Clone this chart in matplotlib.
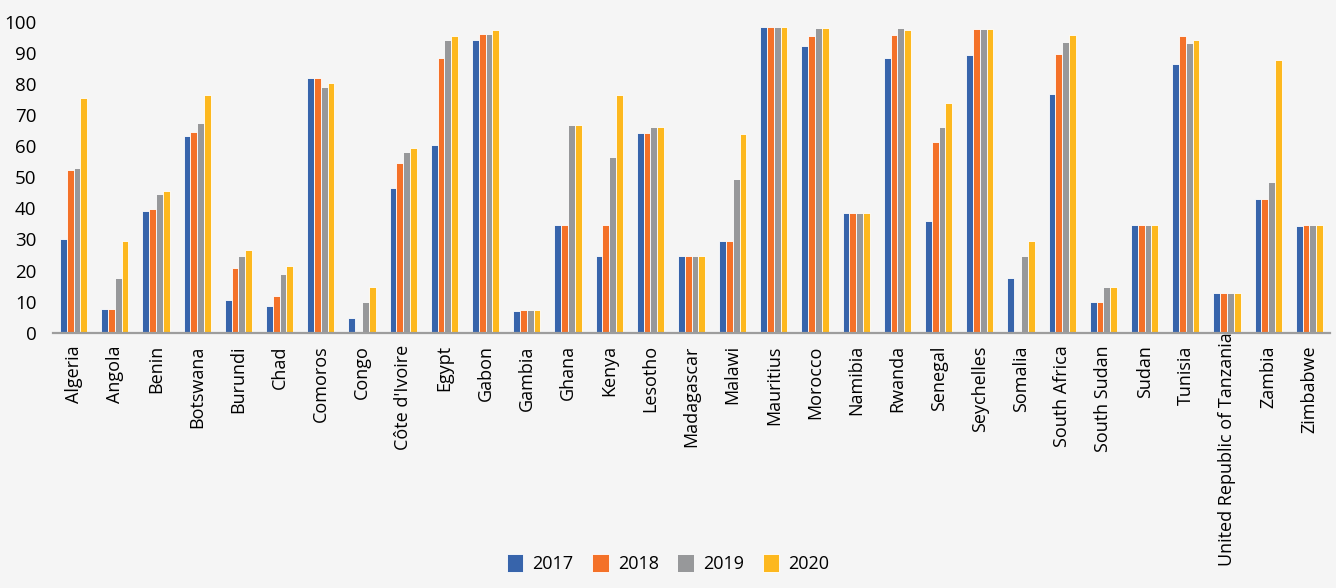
import matplotlib
matplotlib.use("Agg")
import matplotlib.pyplot as plt
import matplotlib.transforms as mtransforms
import numpy as np

countries = ["Algeria", "Angola", "Benin", "Botswana", "Burundi", "Chad", "Comoros", "Congo",
             "Côte d'Ivoire", "Egypt", "Gabon", "Gambia", "Ghana", "Kenya", "Lesotho",
             "Madagascar", "Malawi", "Mauritius", "Morocco", "Namibia", "Rwanda", "Senegal",
             "Seychelles", "Somalia", "South Africa", "South Sudan", "Sudan", "Tunisia",
             "United Republic of Tanzania", "Zambia", "Zimbabwe"]

years = ["2017", "2018", "2019", "2020"]

v2017 = [30.0, 7.6, 39.2, 63.2, 10.6, 8.7, 81.8, 4.6, 46.4, 60.3, 94.1, 7.0, 34.5, 24.7, 64.3,
         24.7, 29.6, 98.3, 92.3, 38.6, 88.2, 36.0, 89.3, 17.6, 76.8, 9.8, 34.5, 86.3, 12.7, 42.9, 34.2]
v2018 = [52.2, 7.6, 39.7, 64.4, 20.7, 11.8, 81.8, 0.0, 54.6, 88.2, 96.1, 7.2, 34.5, 34.5, 64.3,
         24.7, 29.6, 98.3, 95.3, 38.6, 95.7, 61.3, 97.6, 0.0, 89.5, 9.8, 34.5, 95.3, 12.7, 42.9, 34.5]
v2019 = [53.1, 17.7, 44.6, 67.3, 24.7, 18.9, 79.0, 9.8, 58.0, 94.1, 96.1, 7.2, 66.9, 56.5, 66.2,
         24.7, 49.4, 98.3, 97.9, 38.6, 98.0, 66.2, 97.6, 24.7, 93.6, 14.7, 34.5, 93.2, 12.7, 48.6, 34.5]
v2020 = [75.5, 29.6, 45.6, 76.3, 26.6, 21.4, 80.4, 14.7, 59.4, 95.3, 97.2, 7.2, 66.9, 76.3, 66.2,
         24.7, 63.9, 98.3, 97.9, 38.6, 97.2, 73.9, 97.6, 29.6, 95.7, 14.7, 34.5, 94.1, 12.7, 87.6, 34.5]

series = [v2017, v2018, v2019, v2020]
colors = ["#3764AB", "#F47128", "#97989A", "#FDB81E"]

fam = ['Open Sans', 'DejaVu Sans']
plt.rcParams['font.family'] = fam

bg = "#f5f5f5"
fig = plt.figure(figsize=(13.36, 5.88), dpi=100, facecolor=bg)
ax = fig.add_axes([0.0397, 0.4342, 0.9558, 0.5288], facecolor=bg)

x = np.arange(len(countries))
w = 0.165
for i, (vals, c, lab) in enumerate(zip(series, colors, years)):
    ax.bar(x + (i - 1.5) * w, vals, width=w, color=c, edgecolor="white", linewidth=0.6, label=lab)

ax.set_xlim(-0.5, len(countries) - 0.5)
ax.set_ylim(0, 100)
ax.set_yticks(np.arange(0, 101, 10))
ax.set_yticklabels([str(t) for t in range(0, 101, 10)], fontsize=13.5)
ax.set_xticks(x)
ax.set_xticklabels(countries, rotation=90, fontsize=13)
ax.tick_params(axis='y', length=0, pad=12)
ax.tick_params(axis='x', length=0, pad=9)

# the long label sits a little higher in the original
for lbl in ax.get_xticklabels():
    if lbl.get_text().startswith("United"):
        off = mtransforms.ScaledTranslation(0, 9 / 72, fig.dpi_scale_trans)
        lbl.set_transform(lbl.get_transform() + off)

for s in ["top", "right", "left"]:
    ax.spines[s].set_visible(False)
ax.spines["bottom"].set_color("#9d9d9d")
ax.spines["bottom"].set_linewidth(1.6)

fig.legend(loc="center", bbox_to_anchor=(0.5, 0.041), ncol=4, frameon=False,
           handlelength=0.9, handleheight=1.1, handletextpad=0.5,
           columnspacing=1.05, prop={'family': fam, 'size': 13})

fig.savefig("out.png", dpi=100, facecolor=bg)
